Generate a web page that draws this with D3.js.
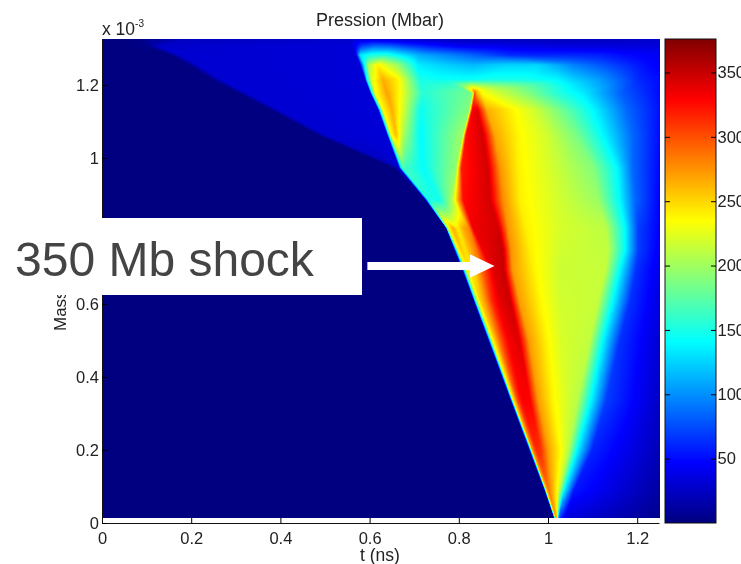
<!DOCTYPE html>
<html>
<head>
<meta charset="utf-8">
<script src="https://d3js.org/d3.v7.min.js"></script>
<style>
body { margin: 0; background: white; overflow: hidden; }
#chart { position: relative; width: 741px; height: 564px; overflow: hidden; }
canvas, svg { position: absolute; left: 0; top: 0; }
canvas { filter: blur(0.5px); }
text { font-family: "Liberation Sans", Helvetica, sans-serif; fill: #222; }
</style>
</head>
<body>
<div id="chart"></div>
<script>
/* Pressure: one row per mass level, 19 knots per row
   (knots follow the shock fronts from one row to the next) */
var massLevels = [1.326, 1.307, 1.282, 1.255, 1.214, 1.178, 1.132, 1.063, 0.973, 0.885,
                  0.808, 0.748, 0.693, 0.611, 0.501, 0.337, 0.200, 0.090, 0.014];

var knotTimes = [
    [0,.063,.197,.556,.578,.605,.634,.668,.713,.780,.830,.847,.892,.937,1.027,1.094,1.161,1.206,1.251],
    [0,.099,.126,.561,.583,.612,.650,.691,.735,.803,.847,.881,.915,.960,1.049,1.117,1.173,1.217,1.251],
    [0,.152,.175,.569,.578,.601,.634,.668,.713,.780,.843,.881,.915,.960,1.049,1.117,1.173,1.217,1.251],
    [0,.193,.215,.578,.587,.596,.617,.661,.708,.758,.832,.908,.982,1.020,1.056,1.132,1.184,1.222,1.251],
    [0,.247,.269,.590,.594,.605,.630,.664,.713,.758,.825,.870,.944,1.020,1.056,1.117,1.168,1.206,1.251],
    [0,.305,.325,.601,.605,.612,.639,.668,.720,.830,.836,.841,.852,.886,.953,1.020,1.078,1.168,1.251],
    [0,.378,.395,.619,.623,.630,.650,.673,.713,.823,.830,.841,.863,.921,.975,1.043,1.101,1.177,1.251],
    [0,.484,.500,.639,.643,.648,.659,.675,.713,.809,.816,.854,.881,.933,.998,1.065,1.123,1.190,1.251],
    [0,.655,.661,.666,.670,.673,.675,.679,.720,.794,.806,.865,.892,.933,1.011,1.101,1.155,1.190,1.251],
    [0,.720,.722,.724,.729,.731,.733,.735,.758,.785,.810,.870,.899,.937,1.018,1.112,1.161,1.195,1.251],
    [0,.767,.769,.771,.773,.778,.787,.798,.809,.823,.832,.890,.910,.951,1.027,1.130,1.173,1.202,1.251],
    [0,.785,.787,.789,.794,.798,.805,.814,.825,.839,.854,.899,.917,.960,1.027,1.134,1.173,1.202,1.251],
    [0,.803,.805,.807,.812,.816,.823,.832,.843,.856,.877,.901,.921,.971,1.027,1.128,1.161,1.197,1.251],
    [0,.827,.830,.832,.836,.841,.847,.856,.865,.874,.890,.915,.935,.982,1.027,1.112,1.146,1.184,1.251],
    [0,.861,.863,.865,.870,.874,.881,.888,.895,.904,.912,.935,.957,.998,1.031,1.094,1.123,1.161,1.251],
    [0,.910,.912,.915,.919,.921,.926,.930,.935,.939,.944,.960,.978,1.009,1.038,1.067,1.096,1.130,1.251],
    [0,.953,.955,.957,.961,.963,.965,.969,.971,.973,.975,.984,1.000,1.025,1.038,1.047,1.065,1.099,1.251],
    [0,.986,.989,.991,.994,.995,.997,.999,1.000,1.001,1.002,1.004,1.009,1.019,1.022,1.027,1.036,1.058,1.251],
    [0,1.011,1.012,1.013,1.014,1.016,1.0165,1.017,1.018,1.0185,1.019,1.020,1.0205,1.021,1.022,1.023,1.025,1.040,1.251]
];

var knotPressures = [
    [0,0,24,28,30,30,30,30,28,24,22,22,22,22,22,24,24,26,30],
    [0,2,28,32,70,85,80,65,55,42,40,40,38,36,34,34,34,34,34],
    [0,0,30,32,130,150,155,135,110,95,80,70,62,60,60,58,50,46,42],
    [0,0,30,32,130,200,240,200,135,125,115,125,125,110,95,75,60,50,45],
    [0,0,30,32,140,225,265,240,150,145,145,150,150,140,125,105,80,60,50],
    [0,0,30,32,140,230,270,235,155,185,300,260,235,218,190,155,135,80,50],
    [0,0,30,32,140,235,265,225,145,190,330,340,265,238,215,175,140,85,52],
    [0,0,30,32,145,230,260,205,140,200,325,345,268,238,218,185,140,85,50],
    [0,0,20,32,130,150,170,165,142,195,320,345,275,240,218,190,140,85,48],
    [0,0,0,0,120,140,150,150,148,205,325,345,278,240,220,198,140,85,45],
    [0,0,0,0,170,240,265,240,265,280,335,345,275,240,220,210,140,70,45],
    [0,0,0,0,140,230,255,245,262,285,335,350,275,240,218,212,140,70,42],
    [0,0,0,0,140,215,240,245,270,300,340,350,272,238,216,214,140,65,38],
    [0,0,0,0,140,215,250,268,290,315,338,348,272,238,218,214,140,65,35],
    [0,0,0,0,140,225,255,280,300,320,332,342,272,238,220,212,140,65,30],
    [0,0,0,0,140,235,265,295,315,325,330,330,272,240,222,208,140,70,25],
    [0,0,0,0,140,240,275,295,305,312,315,312,272,240,222,205,140,60,20],
    [0,0,0,0,140,230,260,272,280,285,285,280,268,240,225,205,140,55,12],
    [0,0,0,0,120,200,240,260,265,268,268,262,250,230,190,130,70,35,5]
];

var timeTicks = [0, 0.2, 0.4, 0.6, 0.8, 1, 1.2];
var massTicks = [0, 0.2, 0.4, 0.6, 0.8, 1, 1.2];
var pressureTicks = [50, 100, 150, 200, 250, 300, 350];
var jetStops = [0, 47, 141, 235, 329, 376];
var jetColors = ["#000080", "#0000ff", "#00ffff", "#ffff00", "#ff0000", "#800000"];

var x = d3.scaleLinear().domain([0, 1.25]).range([102, 659.5]);
var y = d3.scaleLinear().domain([0, 1.326]).range([523, 39]);
var barY = d3.scaleLinear().domain([0, 376]).range([523, 39]);
var color = d3.scaleLinear().domain(jetStops).range(jetColors);

var chart = d3.select("#chart");
var canvas = chart.append("canvas").attr("width", 741).attr("height", 564);
var svg = chart.append("svg").attr("width", 741).attr("height", 564);

/* Shade the mesh, like pcolor with interp shading */
function pressureAt(t, m)
{
    var r = d3.bisectLeft(massLevels.map(d => -d), -m);
    r = Math.max(1, Math.min(massLevels.length - 1, r));
    var f = (massLevels[r - 1] - m) / (massLevels[r - 1] - massLevels[r]);
    var k = 1;
    var tLow, tHigh;
    for (k = 1; k < 19; k++)
    {
        tLow = knotTimes[r - 1][k - 1] * (1 - f) + knotTimes[r][k - 1] * f;
        tHigh = knotTimes[r - 1][k] * (1 - f) + knotTimes[r][k] * f;
        if (t <= tHigh) break;
    }
    if (k == 19) k = 18;
    var pLow = knotPressures[r - 1][k - 1] * (1 - f) + knotPressures[r][k - 1] * f;
    var pHigh = knotPressures[r - 1][k] * (1 - f) + knotPressures[r][k] * f;
    var g = tHigh > tLow ? (t - tLow) / (tHigh - tLow) : 1;
    return pLow + (pHigh - pLow) * Math.max(0, Math.min(1, g));
}

var ctx = canvas.node().getContext("2d");
var y0 = Math.round(y(massLevels[0]));
var y1 = Math.round(y(massLevels[massLevels.length - 1]));
var x0 = Math.round(x(0));
var x1 = Math.round(x(1.25));
var image = ctx.createImageData(x1 - x0, y1 - y0);
for (var j = y0; j < y1; j++)
{
    for (var i = x0; i < x1; i++)
    {
        var c = d3.rgb(color(pressureAt(x.invert(i + 0.5), y.invert(j + 0.5))));
        var n = ((j - y0) * (x1 - x0) + (i - x0)) * 4;
        image.data[n] = c.r;
        image.data[n + 1] = c.g;
        image.data[n + 2] = c.b;
        image.data[n + 3] = 255;
    }
}
ctx.putImageData(image, x0, y0);

/* Colorbar, one rect per pixel row */
var barRows = d3.range(39, 523);
svg.append("g").selectAll("rect")
    .data(barRows)
    .join("rect")
    .attr("x", 665)
    .attr("y", d => d)
    .attr("width", 51)
    .attr("height", 1)
    .attr("shape-rendering", "crispEdges")
    .attr("fill", d => color(barY.invert(d + 0.5)));

svg.append("rect")
    .attr("x", 665)
    .attr("y", 39)
    .attr("width", 51)
    .attr("height", 484)
    .attr("fill", "none")
    .attr("stroke", "#111");

var barAxis = svg.append("g")
    .attr("transform", "translate(716,0)")
    .call(d3.axisRight(barY).tickValues(pressureTicks).tickSize(-5));
barAxis.select(".domain").remove();
barAxis.selectAll("text").attr("font-size", 16.5).attr("x", 1.5);
svg.append("g")
    .attr("transform", "translate(665,0)")
    .call(d3.axisRight(barY).tickValues(pressureTicks).tickSize(5).tickFormat(""))
    .select(".domain").remove();

/* Axes */
var xAxis = svg.append("g")
    .attr("transform", "translate(0,523)")
    .call(d3.axisBottom(x).tickValues(timeTicks).tickSize(-5).tickPadding(9).tickFormat(d3.format("")));
xAxis.selectAll("text").attr("font-size", 16.5);
xAxis.select(".domain").attr("d", "M102.5,0.5H659.5").attr("stroke", "#111");

var yAxis = svg.append("g")
    .attr("transform", "translate(102,0)")
    .call(d3.axisLeft(y).tickValues(massTicks).tickSize(-5).tickPadding(3).tickFormat(d3.format("")));
yAxis.selectAll("text").attr("font-size", 16.5);
yAxis.select(".domain").attr("d", "M0.5,39V523").attr("stroke", "#111");

/* Titles */
svg.append("text")
    .attr("x", 380)
    .attr("y", 26)
    .attr("text-anchor", "middle")
    .attr("font-size", 18)
    .text("Pression (Mbar)");

svg.append("text")
    .attr("x", 380)
    .attr("y", 561)
    .attr("text-anchor", "middle")
    .attr("font-size", 17.5)
    .text("t (ns)");

svg.append("text")
    .attr("transform", "translate(66,331) rotate(-90)")
    .attr("font-size", 17)
    .text("Mass (g)");

var scaleLabel = svg.append("text")
    .attr("x", 102)
    .attr("y", 35)
    .attr("font-size", 17.5);
scaleLabel.append("tspan").text("x 10");
scaleLabel.append("tspan").attr("font-size", 10).attr("dy", -8).text("-3");

/* Annotation pasted over the chart */
svg.append("rect")
    .attr("x", 0)
    .attr("y", 218)
    .attr("width", 362)
    .attr("height", 77)
    .attr("fill", "white");

svg.append("text")
    .attr("x", 15)
    .attr("y", 276)
    .attr("font-size", 48)
    .style("fill", "#444")
    .text("350 Mb shock");

/* Arrow points at the shock peak */
var arrowLine = d3.line().x(d => x(d[0])).y(d => y(d[1]));
var arrowTail = [[0.595, 0.704], [0.825, 0.704]];
var arrowHead = [[0.825, 0.736], [0.88, 0.704], [0.825, 0.672]];
svg.append("path")
    .attr("d", arrowLine(arrowTail))
    .attr("stroke", "white")
    .attr("stroke-width", 8);
svg.append("path")
    .attr("d", arrowLine(arrowHead) + "Z")
    .attr("fill", "white");
</script>
</body>
</html>
